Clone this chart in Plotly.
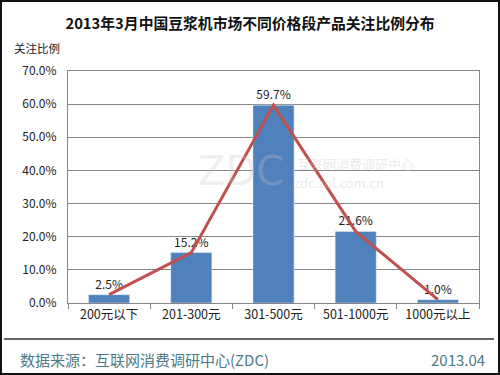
import plotly.graph_objects as go

categories = ["200元以下", "201-300元", "301-500元", "501-1000元", "1000元以上"]
values = [2.5, 15.2, 59.7, 21.6, 1.0]
labels = ["2.5%", "15.2%", "59.7%", "21.6%", "1.0%"]
y_ticks = [0, 10, 20, 30, 40, 50, 60, 70]
y_tick_text = ["0.0%", "10.0%", "20.0%", "30.0%", "40.0%", "50.0%", "60.0%", "70.0%"]

FONT = "Noto Sans CJK SC"
PW, PH = 411, 232  # plot area size in px

fig = go.Figure()
fig.add_trace(go.Bar(
    x=categories, y=values, marker_color="#4F81BD", width=0.5,
    text=labels, textposition="outside", cliponaxis=False,
    textfont=dict(size=12, color="#222222", family=FONT),
))
fig.add_trace(go.Scatter(
    x=categories, y=values, mode="lines",
    line=dict(color="#C0504D", width=3), cliponaxis=False,
))

fig.update_layout(
    width=500, height=375,
    margin=dict(l=68, r=21, t=71, b=72),
    paper_bgcolor="white", plot_bgcolor="white",
    showlegend=False,
    font=dict(family=FONT, color="#222222"),
    title=dict(text="<b>2013年3月中国豆浆机市场不同价格段产品关注比例分布</b>",
               x=0.5, xanchor="center", y=0.936, yanchor="middle",
               font=dict(size=14.8, color="#111111", family=FONT)),
    xaxis=dict(showline=True, linecolor="#868686", mirror=True,
               ticks="outside", tickson="boundaries", ticklen=5, tickcolor="#868686",
               tickfont=dict(size=12.5, family=FONT), showgrid=False),
    yaxis=dict(range=[0, 70], tickvals=y_ticks, ticktext=y_tick_text,
               showline=True, linecolor="#868686", mirror=True,
               showgrid=True, gridcolor="#868686", gridwidth=1,
               tickfont=dict(size=12, family=FONT), ticks="", zeroline=False,
               ticklabelstandoff=8),
)

# y-axis title
fig.add_annotation(text="关注比例", xref="paper", yref="paper", x=-0.137, y=1.10,
                   xanchor="left", yanchor="middle", showarrow=False,
                   font=dict(size=11.5, family=FONT, color="#222222"))

# watermark
fig.add_annotation(text="ZDC", xref="paper", yref="paper", x=0.42, y=0.57,
                   xanchor="center", yanchor="middle", showarrow=False,
                   font=dict(size=40, family="DejaVu Sans", color="rgba(200,200,200,0.3)"))
fig.add_annotation(text="互联网消费调研中心", xref="paper", yref="paper", x=0.70, y=0.6,
                   xanchor="center", yanchor="middle", showarrow=False,
                   font=dict(size=13, family=FONT, color="rgba(200,200,200,0.4)"))
fig.add_annotation(text="zdc.zol.com.cn", xref="paper", yref="paper", x=0.66, y=0.52,
                   xanchor="center", yanchor="middle", showarrow=False,
                   font=dict(size=13, family=FONT, color="rgba(200,200,200,0.4)"))

# footer
fig.add_shape(type="line", xref="paper", yref="paper",
              x0=-0.156, x1=1.0366, y0=-0.155, y1=-0.155,
              line=dict(color="#333333", width=1.5))
fig.add_annotation(text="数据来源：互联网消费调研中心(ZDC)", xref="paper", yref="paper",
                   x=-0.122, y=-0.245, xanchor="left", yanchor="middle", showarrow=False,
                   font=dict(size=15, family=FONT, color="#4a7b88"))
fig.add_annotation(text="2013.04", xref="paper", yref="paper",
                   x=1.02, y=-0.245, xanchor="right", yanchor="middle", showarrow=False,
                   font=dict(size=15, family=FONT, color="#4a7b88"))

# outer frame
fig.add_shape(type="rect", xref="paper", yref="paper",
              x0=-67 / PW, x1=(PW + 20) / PW, y0=-71 / PH, y1=(PH + 70) / PH,
              line=dict(color="#111111", width=2))

fig.write_html("out.html", config={"displayModeBar": False},
               post_script="document.body.style.margin='0';document.body.style.overflow='hidden';")
